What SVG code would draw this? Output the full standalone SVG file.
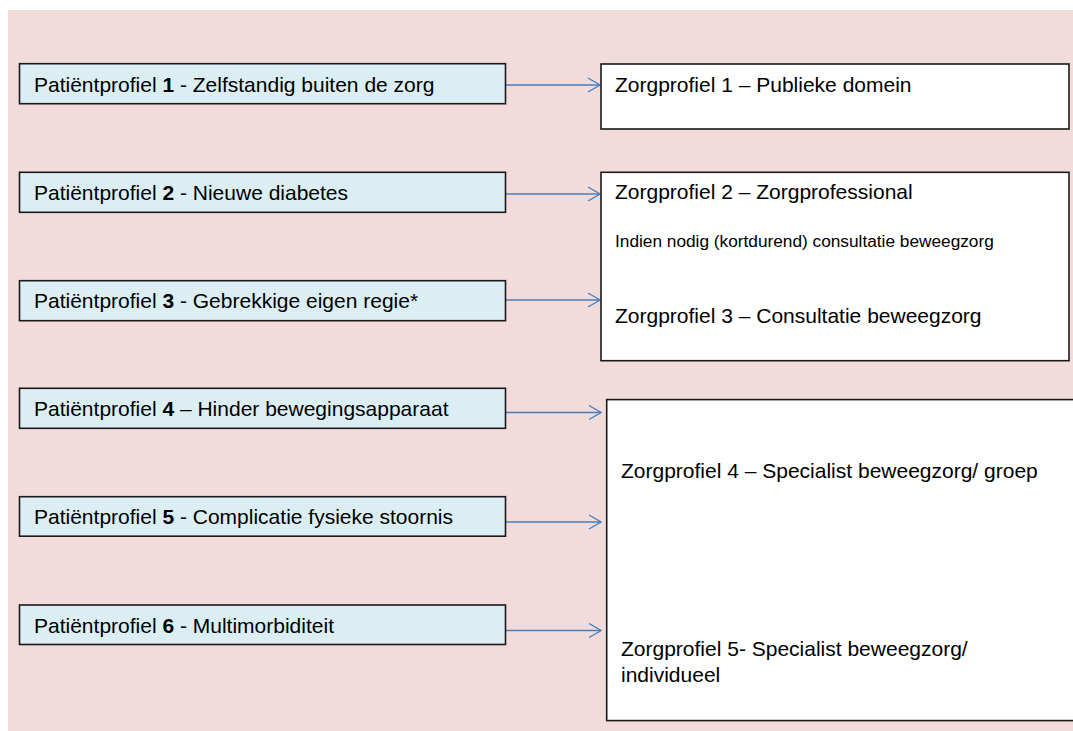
<svg xmlns="http://www.w3.org/2000/svg" width="1073" height="731" viewBox="0 0 1073 731">
<style>
.pat{fill:#DBEEF4;stroke:#1a1a1a;stroke-width:1.6}
.zorg{fill:#FFFFFF;stroke:#1a1a1a;stroke-width:1.6}
.t{font-family:"Liberation Sans",Arial,sans-serif;font-size:21px;fill:#000}
.s{font-family:"Liberation Sans",Arial,sans-serif;font-size:17.25px;fill:#000}
.b{font-weight:bold}
.c{stroke:#4A7EBB;stroke-width:1.3;fill:none}
</style>
<defs>
<marker id="arr" viewBox="0 0 14 16" refX="13" refY="8" markerWidth="14" markerHeight="16" markerUnits="userSpaceOnUse" orient="auto">
<polyline points="1,1 13,8 1,15" fill="none" stroke="#4A7EBB" stroke-width="1.3"/>
</marker>
</defs>
<rect x="8" y="10" width="1065" height="721" fill="#F2DCDB"/>
<g id="connectors">
<line class="c" x1="506" y1="85" x2="600" y2="85" marker-end="url(#arr)"/>
<line class="c" x1="506" y1="194" x2="600" y2="194" marker-end="url(#arr)"/>
<line class="c" x1="506" y1="300" x2="600" y2="300" marker-end="url(#arr)"/>
<line class="c" x1="506" y1="412.5" x2="601" y2="412.5" marker-end="url(#arr)"/>
<line class="c" x1="506" y1="522" x2="601" y2="522" marker-end="url(#arr)"/>
<line class="c" x1="506" y1="630.5" x2="601" y2="630.5" marker-end="url(#arr)"/>
</g>
<g id="pat1"><rect class="pat" x="19.5" y="63.7" width="486" height="40"/><text class="t" x="34" y="91.5">Patiëntprofiel <tspan class="b">1</tspan> - Zelfstandig buiten de zorg</text></g>
<g id="pat2"><rect class="pat" x="19.5" y="172.3" width="486" height="40"/><text class="t" x="34" y="200">Patiëntprofiel <tspan class="b">2</tspan> - Nieuwe diabetes</text></g>
<g id="pat3"><rect class="pat" x="19.5" y="280.7" width="486" height="40"/><text class="t" x="34" y="308.4">Patiëntprofiel <tspan class="b">3</tspan> - Gebrekkige eigen regie*</text></g>
<g id="pat4"><rect class="pat" x="19.5" y="388.3" width="486" height="40"/><text class="t" x="34" y="416.2">Patiëntprofiel <tspan class="b">4</tspan> – Hinder bewegingsapparaat</text></g>
<g id="pat5"><rect class="pat" x="19.5" y="496.7" width="486" height="39.5"/><text class="t" x="34" y="524.3">Patiëntprofiel <tspan class="b">5</tspan> - Complicatie fysieke stoornis</text></g>
<g id="pat6"><rect class="pat" x="19.5" y="605" width="486" height="39.5"/><text class="t" x="34" y="632.6">Patiëntprofiel <tspan class="b">6</tspan> - Multimorbiditeit</text></g>
<g id="zorg1"><rect class="zorg" x="601" y="64" width="468" height="65"/><text class="t" x="615" y="91.7">Zorgprofiel 1 – Publieke domein</text></g>
<g id="zorg23"><rect class="zorg" x="601" y="172.3" width="468" height="188.4"/><text class="t" x="615" y="199.3">Zorgprofiel 2 – Zorgprofessional</text><text class="s" x="615" y="247.3">Indien nodig (kortdurend) consultatie beweegzorg</text><text class="t" x="615" y="323.3">Zorgprofiel 3 – Consultatie beweegzorg</text></g>
<g id="zorg45"><rect class="zorg" x="606.7" y="399.6" width="480" height="321"/><text class="t" x="621" y="477.7">Zorgprofiel 4 – Specialist beweegzorg/ groep</text><text class="t" x="621" y="656">Zorgprofiel 5- Specialist beweegzorg/</text><text class="t" x="621" y="681.7">individueel</text></g>
</svg>
